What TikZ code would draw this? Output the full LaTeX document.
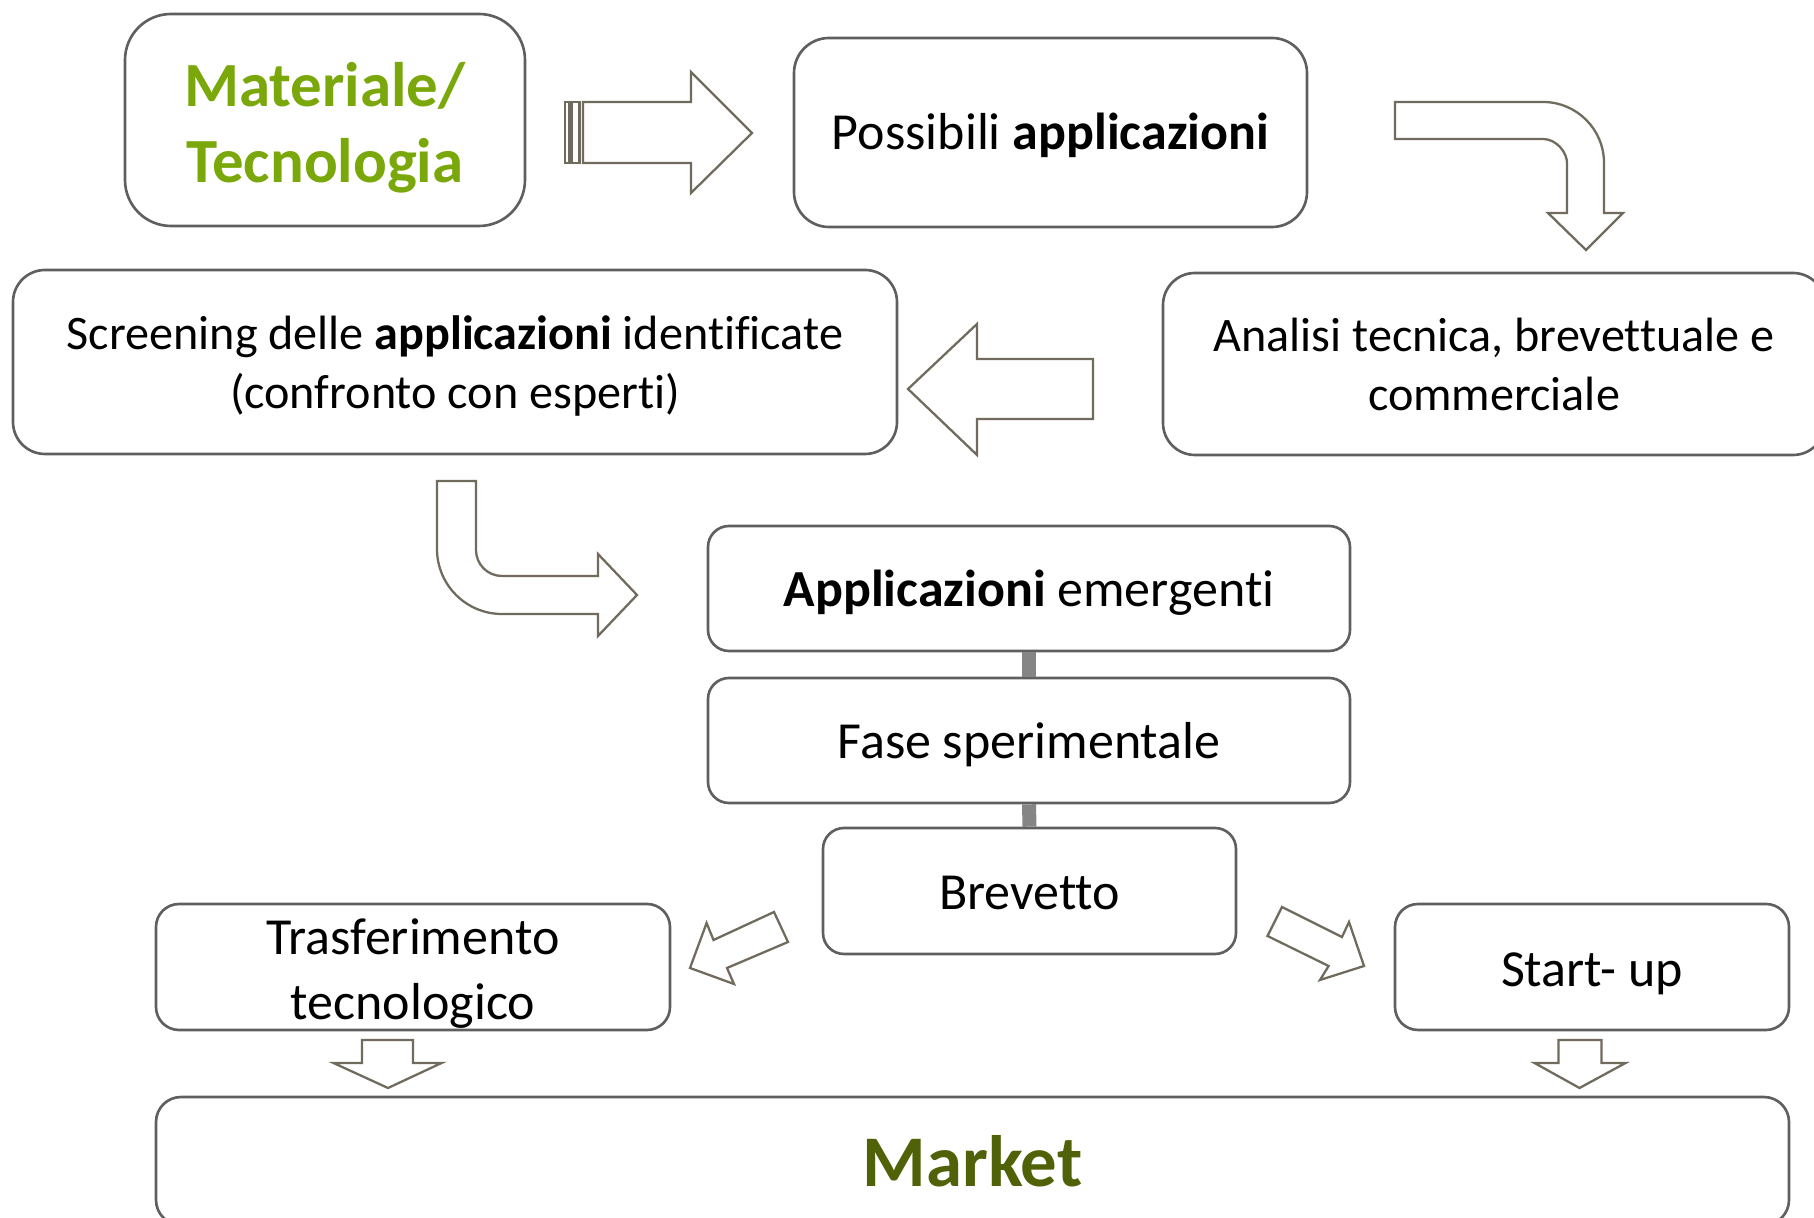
\documentclass[tikz,border=0pt]{standalone}
\usepackage{fontspec}
\setmainfont[Ligatures=NoCommon]{Carlito}
\usepackage{tikz}
\usetikzlibrary{calc}

\definecolor{boxgray}{HTML}{5F5F5F}
\definecolor{arrowbrown}{HTML}{716B5E}
\definecolor{leafgreen}{HTML}{7AA80B}
\definecolor{marketgreen}{HTML}{4F6208}
\definecolor{bargray}{HTML}{858585}

% strut that pushes the first line down a little
\newcommand{\lift}[1]{\rule{0pt}{#1}}

\tikzset{
  stage/.style={draw=boxgray, line width=0.75pt, fill=white, rounded corners=#1,
    align=center, inner sep=0pt, font=\fontsize{14.8}{18.5}\selectfont},
  blockarrow/.style={draw=arrowbrown, line width=0.65pt, fill=white, line join=miter},
  link/.style={draw=bargray, line width=1.4mm}
}

\begin{document}
\begin{tikzpicture}[x=0.1mm, y=-0.1mm]
        \useasboundingbox (0,0) rectangle (1814,1218);
        \clip (0,0) rectangle (1814,1218);

        % boxes
        \node[stage=4.6mm, minimum width=40mm, minimum height=21.2mm,
          font=\fontsize{17.9}{21.6}\selectfont\bfseries, text=leafgreen] (mat) at (325,120) {\lift{0.95em}Materiale/\\Tecnologia};
        \node[stage=3.5mm, minimum width=51.3mm, minimum height=18.9mm] (poss) at (1050.5,132.5) {\lift{0.83em}Possibili \textbf{applicazioni}};
        \node[stage=3.2mm, minimum width=66.2mm, minimum height=18.2mm,
          font=\fontsize{13.7}{16.8}\selectfont] (anal) at (1494,364) {Analisi tecnica, brevettuale e\\commerciale};
        \node[stage=3.2mm, minimum width=88.4mm, minimum height=18.4mm,
          font=\fontsize{13.7}{16.8}\selectfont] (scr) at (455,362) {\lift{0.88em}Screening delle \textbf{applicazioni} identificate\\(confronto con esperti)};
        \node[stage=2.1mm, minimum width=64.2mm, minimum height=12.5mm] (app) at (1029,588.5) {\lift{0.87em}\textbf{Applicazioni} emergenti};
        \node[stage=2.1mm, minimum width=64.2mm, minimum height=12.5mm] (fase) at (1029,740.5) {\lift{0.87em}Fase sperimentale};
        \node[stage=2.1mm, minimum width=41.3mm, minimum height=12.6mm] (brev) at (1029.5,891) {\lift{0.72em}Brevetto};
        \node[stage=2.3mm, minimum width=51.4mm, minimum height=12.6mm] (tras) at (413,967) {\lift{0.93em}Trasferimento\\tecnologico};
        \node[stage=2.3mm, minimum width=39.4mm, minimum height=12.6mm] (start) at (1592,967) {\lift{0.92em}Start- up};
        \node[stage=2.5mm, minimum width=163.3mm, minimum height=12.8mm,
          font=\fontsize{20.7}{24}\selectfont\bfseries, text=marketgreen] (market) at (972.5,1161) {Market};

        \draw[link] (app.south) -- (fase.north);
        \draw[link] (fase.south) -- (brev.north);

        % block arrows
        \draw[blockarrow] (565,102) rectangle (569,163);
        \draw[blockarrow] (571.5,102) rectangle (579.5,163);
        \draw[blockarrow] (583,102) -- (691,102) -- (691,72) -- (752,133) -- (691,193) -- (691,163) -- (583,163) -- cycle;

        \draw[blockarrow] (1395,102) -- (1543,102) .. controls (1576.7,102) and (1604,129.3) .. (1604,163)
          -- (1604,213) -- (1623,213) -- (1586,250) -- (1548,213) -- (1567,213) -- (1567,163)
          .. controls (1567,152.3) and (1556.3,139) .. (1543,139) -- (1395,139) -- cycle;

        \draw[blockarrow] (1093,359) -- (977,359) -- (977,324) -- (908,389) -- (977,455) -- (977,419) -- (1093,419) -- cycle;

        \draw[blockarrow] (437,481) -- (476,481) -- (476,550) .. controls (476,564.4) and (487.6,576) .. (502,576)
          -- (598,576) -- (598,554) -- (637,595) -- (598,636) -- (598,614) -- (502,614)
          .. controls (466.1,614) and (437,584.9) .. (437,549) -- cycle;

        \draw[blockarrow] (774,912) -- (713.5,940) -- (706.6,923) -- (690,968) -- (734,984) -- (727,968) -- (788,942) -- cycle;
        \draw[blockarrow] (1282,907) -- (1342,937) -- (1349,922) -- (1364,966) -- (1320,980) -- (1328.6,966) -- (1267.5,936) -- cycle;

        \draw[blockarrow] (362,1040) -- (413,1040) -- (413,1063) -- (441.6,1063) -- (388,1088) -- (333.5,1063) -- (362,1063) -- cycle;
        \draw[blockarrow] (1558.5,1040) -- (1601.5,1040) -- (1601.5,1063) -- (1625.5,1063) -- (1579.5,1088) -- (1534.5,1063) -- (1558.5,1063) -- cycle;
\end{tikzpicture}
\end{document}
